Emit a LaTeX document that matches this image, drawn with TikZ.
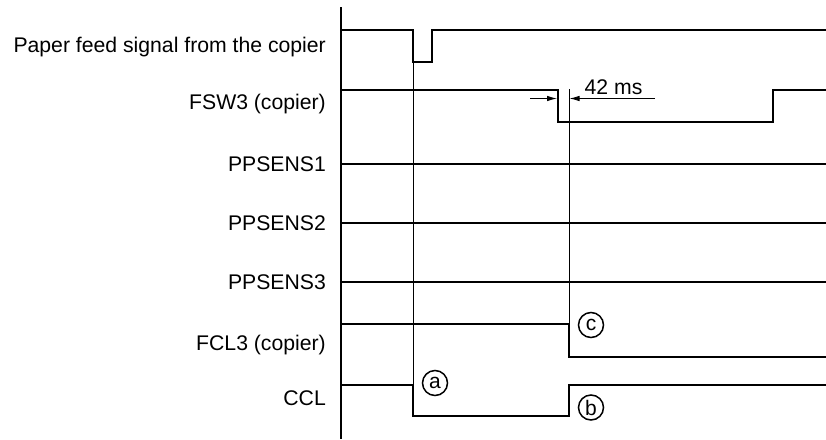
\documentclass[tikz,border=0pt]{standalone}
\usepackage{fontspec}
\setmainfont{Liberation Sans}
\usetikzlibrary{arrows.meta}
\begin{document}
\begin{tikzpicture}[x=1pt,y=-1pt,
  lbl/.style={anchor=east,inner sep=0pt,font=\fontsize{21.2}{24}\selectfont},
  sig/.style={line width=2pt,line join=miter,line cap=butt},
  timeline/.style={line width=0.9pt},
  axisline/.style={line width=1.5pt},
  dimline/.style={line width=0.9pt},
  dimarrow/.style={dimline,-{Latex[length=10pt,width=5.5pt]}},
  circmark/.style={circle,draw,line width=1.5pt,minimum size=25pt,inner sep=0pt,font=\fontsize{21}{22}\selectfont}
]
\useasboundingbox (0,0) rectangle (826,439);
% axis
\coordinate (axT) at (341,7);
\coordinate (axB) at (341,439);
\draw[axisline] (axT) -- (axB);
% labels
\node[lbl] (lPF) at (326,47) {Paper feed signal from the copier};
\node[lbl] (lFSW) at (326,104) {FSW3 (copier)};
\node[lbl] (lP1) at (326,164) {PPSENS1};
\node[lbl] (lP2) at (326,223) {PPSENS2};
\node[lbl] (lP3) at (326,282) {PPSENS3};
\node[lbl] (lFCL) at (326,345) {FCL3 (copier)};
\node[lbl] (lCCL) at (326,398) {CCL};
% paper feed signal
\coordinate (pf0) at (341,30);
\coordinate (pf1) at (413,30);
\coordinate (pf2) at (413,62);
\coordinate (pf3) at (432,62);
\coordinate (pf4) at (432,30);
\coordinate (pf5) at (826,30);
\draw[sig] (pf0) -- (pf1) -- (pf2) -- (pf3) -- (pf4) -- (pf5);
% FSW3
\coordinate (fs0) at (341,90);
\coordinate (fs1) at (557.5,90);
\coordinate (fs2) at (557.5,122);
\coordinate (fs3) at (773,122);
\coordinate (fs4) at (773,90);
\coordinate (fs5) at (826,90);
\draw[sig] (fs0) -- (fs1) -- (fs2) -- (fs3) -- (fs4) -- (fs5);
% PPSENS lines
\coordinate (p1a) at (341,164); \coordinate (p1b) at (826,164);
\coordinate (p2a) at (341,223); \coordinate (p2b) at (826,223);
\coordinate (p3a) at (341,282); \coordinate (p3b) at (826,282);
\draw[sig] (p1a) -- (p1b);
\draw[sig] (p2a) -- (p2b);
\draw[sig] (p3a) -- (p3b);
% FCL3
\coordinate (fc0) at (341,324);
\coordinate (fc1) at (569,324);
\coordinate (fc2) at (569,357);
\coordinate (fc3) at (826,357);
\draw[sig] (fc0) -- (fc1) -- (fc2) -- (fc3);
% CCL
\coordinate (cc0) at (341,385);
\coordinate (cc1) at (413,385);
\coordinate (cc2) at (413,415.5);
\coordinate (cc3) at (569,415.5);
\coordinate (cc4) at (569,385);
\coordinate (cc5) at (826,385);
\draw[sig] (cc0) -- (cc1) -- (cc2) -- (cc3) -- (cc4) -- (cc5);
% thin timing lines
\draw[timeline] (pf2) -- (cc1);
\coordinate (t2top) at (569,89);
\draw[timeline] (t2top) -- (fc1);
% dimension 42 ms
\coordinate (dL) at (530,98.5);
\coordinate (dLt) at (557,98.5);
\coordinate (dR) at (655,98.5);
\coordinate (dRt) at (569.5,98.5);
\draw[dimarrow] (dL) -- (dLt);
\draw[dimarrow] (dR) -- (dRt);
\node[anchor=base west,inner sep=0pt,font=\fontsize{21.2}{24}\selectfont] (t42) at (584.5,94) {42 ms};
% circled marks
\node[circmark] (mc) at (591,325) {c};
\node[circmark] (ma) at (435,383) {a};
\node[circmark] (mb) at (591,407.5) {b};
\end{tikzpicture}
\end{document}
